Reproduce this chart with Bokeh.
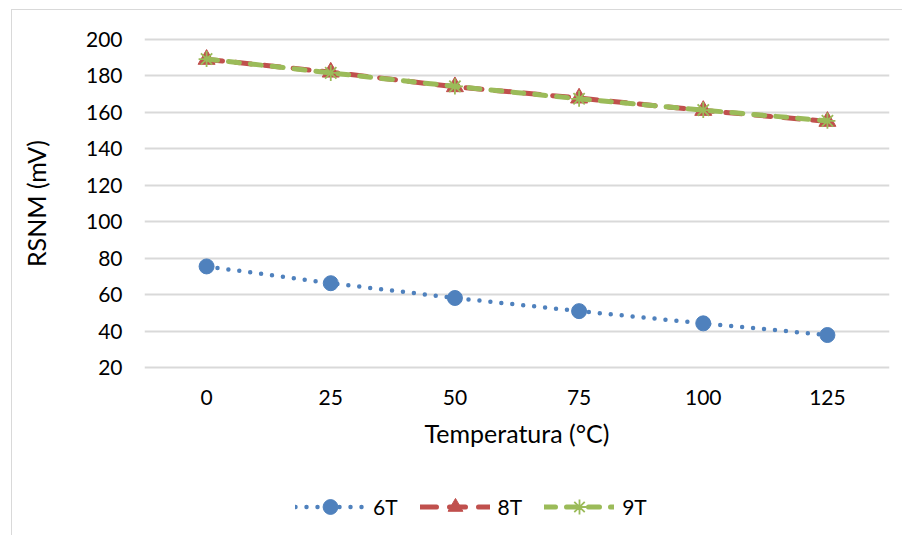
from bokeh.plotting import figure
from bokeh.layouts import column
from bokeh.models import (Range1d, FactorRange, FixedTicker, Legend, LegendItem,
                          ColumnDataSource)
from bokeh.embed import file_html
from bokeh.resources import INLINE

temps = ["0", "25", "50", "75", "100", "125"]
rsnm_6t = [75.5, 66.3, 58.2, 51.0, 44.3, 37.9]
rsnm_8t = [189.0, 182.0, 174.0, 167.8, 161.0, 155.0]
rsnm_9t = [189.2, 181.6, 174.2, 167.4, 161.2, 155.3]
y_ticks = [20, 40, 60, 80, 100, 120, 140, 160, 180, 200]
series_names = ["6T", "8T", "9T"]

FONT = "Lato"
BLUE = "#4f81bd"
RED = "#c0504d"
GREEN = "#9bbb59"

src = ColumnDataSource(dict(x=temps, a=rsnm_6t, b=rsnm_8t, c=rsnm_9t))


def draw_series(fig):
    l6 = fig.line("x", "a", source=src, line_color=BLUE, line_width=4.5,
                  line_dash="0 11", line_cap="round")
    m6 = fig.scatter("x", "a", source=src, marker="circle", size=15,
                     fill_color=BLUE, line_color=BLUE)
    l8 = fig.line("x", "b", source=src, line_color=RED, line_width=5,
                  line_dash="16 13", line_cap="round")
    m8 = fig.scatter("x", "b", source=src, marker="triangle", size=17,
                     fill_color=RED, line_color=RED)
    l9 = fig.line("x", "c", source=src, line_color=GREEN, line_width=5,
                  line_dash="11 11", line_cap="round")
    m9 = fig.scatter("x", "c", source=src, marker="asterisk", size=16,
                     line_color=GREEN, line_width=1.8)
    return [[l6, m6], [l8, m8], [l9, m9]]


# ---- main chart ----
p = figure(width=890, height=460, output_backend="svg", toolbar_location=None,
           x_range=FactorRange(*temps), y_range=Range1d(19, 201),
           min_border_left=132, min_border_right=13, min_border_top=27,
           min_border_bottom=101)
p.outline_line_color = None
p.background_fill_color = "white"
p.border_fill_color = "white"

p.xgrid.grid_line_color = None
p.ygrid.grid_line_color = "#d9d9d9"
p.ygrid.grid_line_width = 2
p.yaxis.ticker = FixedTicker(ticks=y_ticks)

for ax in (p.xaxis[0], p.yaxis[0]):
    ax.axis_line_color = None
    ax.major_tick_line_color = None
    ax.minor_tick_line_color = None
    ax.major_tick_out = 0
    ax.major_tick_in = 0
    ax.minor_tick_out = 0
    ax.major_label_text_font = FONT
    ax.major_label_text_font_size = "21px"
    ax.major_label_text_color = "#000000"
    ax.axis_label_text_font = FONT
    ax.axis_label_text_font_size = "25px"
    ax.axis_label_text_font_style = "normal"
    ax.axis_label_text_color = "#000000"

p.xaxis.axis_label = "Temperatura (°C)"
p.yaxis.axis_label = "RSNM (mV)"
p.xaxis.major_label_standoff = 20
p.xaxis.axis_label_standoff = 10
p.yaxis.major_label_standoff = 22
p.yaxis.axis_label_standoff = 32

draw_series(p)

# ---- legend strip ----
lg = figure(width=890, height=65, output_backend="svg", toolbar_location=None,
            x_range=FactorRange(*temps), y_range=Range1d(1000, 1001),
            min_border=0, x_axis_type=None, y_axis_type=None)
lg.outline_line_color = None
lg.xgrid.grid_line_color = None
lg.ygrid.grid_line_color = None
groups = draw_series(lg)
legend = Legend(items=[LegendItem(label=n, renderers=r)
                       for n, r in zip(series_names, groups)],
                orientation="horizontal", location=(151, 10),
                label_text_font=FONT, label_text_font_size="21px",
                label_text_color="#000000", glyph_width=70, glyph_height=37,
                label_standoff=8, spacing=22, padding=5, margin=0,
                border_line_color=None, background_fill_alpha=0)
lg.add_layout(legend)

layout = column(p, lg, margin=(9, 0, 0, 11),
                styles={"border-left": "1px solid #d9d9d9",
                        "border-top": "1px solid #d9d9d9"})

open("out.html", "w").write(file_html(layout, INLINE))
